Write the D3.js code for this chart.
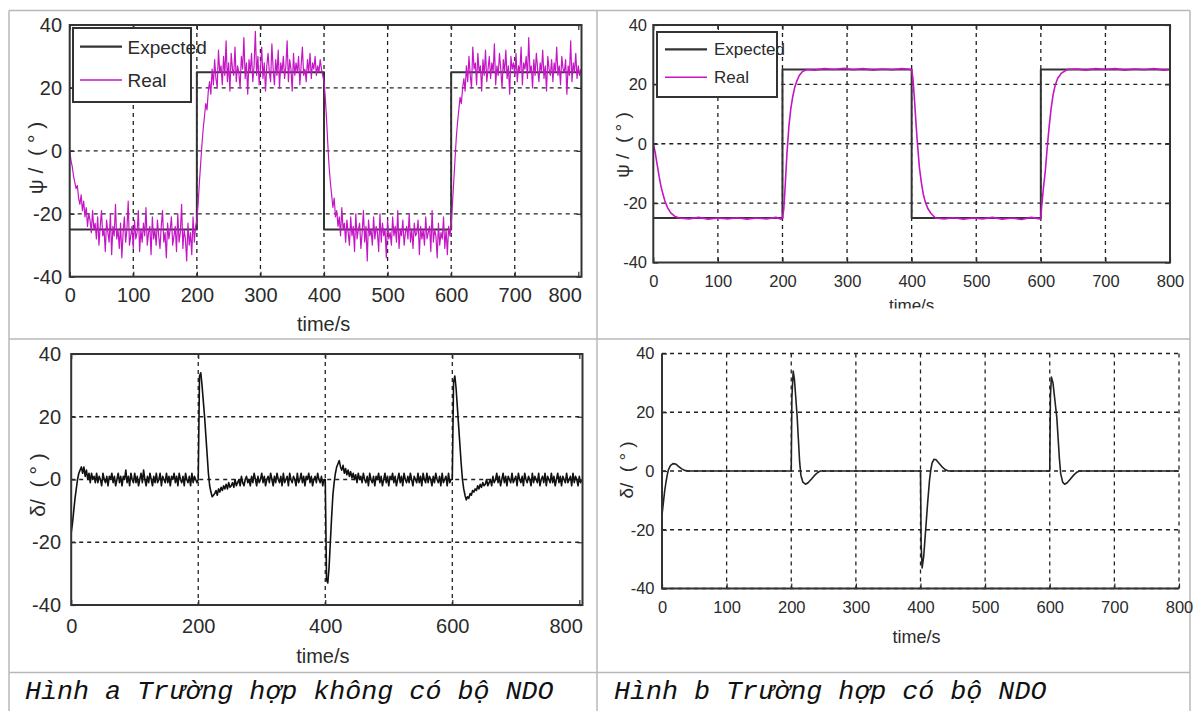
<!DOCTYPE html>
<html>
<head>
<meta charset="utf-8">
<script src="https://cdn.jsdelivr.net/npm/d3@7"></script>
<style>
  body { margin: 0; background: #fff; }
  svg { display: block; }
</style>
</head>
<body>
<svg id="fig" width="1197" height="711"></svg>
<script>
// ---------------- data ----------------
const yTicks = [-40, -20, 0, 20, 40];
const xTicksFine = [0, 100, 200, 300, 400, 500, 600, 700, 800];
const xTicksCoarse = [0, 200, 400, 600, 800];
const legendLabels = ["Expected", "Real"];
const captionA = "Hình a Trường hợp không có bộ NDO";
const captionB = "Hình b Trường hợp có bộ NDO";
const xTitle = "time/s";
const yTitlePsi = "ψ /  ( ° )";
const yTitleDelta = "δ/  ( ° )";

// heading reference (square wave), same for both cases
const psiExpectedATime = [0, 200, 200, 400, 400, 600, 600, 805, 805];
const psiExpectedAVal  = [-25, -25, 25, 25, -25, -25, 25, 25, -21];
const psiExpectedBTime = [0, 200, 200, 400, 400, 600, 600, 800];
const psiExpectedBVal  = [-25, -25, 25, 25, -25, -25, 25, 25];

// case a (no NDO): sampled every 2 s from t = 0 to 804
const sampleStepA = 2;
const psiRealA = [
  // 0 - 198 s
  0, -3, -5, -8, -10, -12, -11, -15, -17, -14,
  -19, -16, -21, -18, -24, -20, -22, -26, -19, -25,
  -23, -28, -21, -30, -24, -19, -27, -25, -32, -22,
  -26, -29, -20, -33, -24, -27, -17, -28, -25, -31,
  -23, -34, -26, -21, -29, -25, -16, -30, -27, -24,
  -31, -22, -28, -26, -19, -32, -25, -29, -23, -27,
  -18, -30, -26, -24, -33, -21, -28, -25, -30, -22,
  -27, -31, -24, -19, -29, -26, -34, -23, -28, -25,
  -21, -30, -27, -24, -32, -20, -29, -26, -17, -31,
  -25, -28, -35, -23, -30, -26, -33, -21, -29, -24,
  // 200 - 398 s
  -22, -17, -10, -4, 2, 7, 11, 15, 13, 19,
  22, 18, 26, 21, 29, 23, 20, 32, 25, 27,
  21, 30, 24, 35, 22, 28, 19, 31, 26, 24,
  33, 22, 27, 25, 20, 30, 26, 36, 23, 28,
  18, 29, 25, 31, 22, 27, 38, 24, 30, 21,
  26, 33, 23, 28, 19, 27, 31, 25, 22, 34,
  26, 21, 29, 24, 32, 20, 28, 25, 30, 23,
  27, 35, 22, 29, 26, 19, 31, 24, 28, 25,
  30, 21, 27, 33, 24, 26, 22, 29, 25, 31,
  23, 28, 26, 30, 24, 27, 25, 29, 26, 24,
  // 400 - 598 s
  22, 17, 10, 2, -5, -10, -14, -18, -15, -21,
  -19, -24, -21, -27, -18, -25, -23, -29, -22, -26,
  -30, -21, -27, -24, -32, -20, -28, -25, -23, -31,
  -26, -19, -29, -24, -35, -22, -27, -25, -30, -21,
  -28, -24, -26, -32, -20, -29, -23, -27, -25, -34,
  -22, -28, -26, -30, -21, -27, -24, -29, -19, -31,
  -25, -27, -22, -30, -26, -24, -28, -20, -29, -25,
  -31, -23, -27, -26, -22, -33, -24, -28, -25, -30,
  -21, -28, -26, -24, -32, -19, -29, -25, -27, -34,
  -23, -30, -26, -28, -21, -31, -25, -33, -24, -27,
  // 600 - 804 s
  -24, -17, -10, -3, 4, 9, 13, 17, 15, 20,
  23, 19, 27, 22, 30, 24, 20, 33, 26, 28,
  21, 31, 25, 27, 19, 29, 24, 32, 22, 26,
  30, 23, 28, 25, 34, 21, 27, 24, 31, 26,
  20, 29, 25, 32, 23, 27, 18, 30, 26, 28,
  24, 31, 22, 27, 25, 33, 21, 28, 26, 30,
  23, 36, 25, 27, 20, 29, 24, 31, 26, 22,
  28, 25, 32, 23, 27, 19, 30, 26, 24, 29,
  22, 28, 25, 33, 24, 27, 21, 30, 26, 25,
  29, 18, 27, 24, 35, 22, 28, 25, 31, 23,
  27, 24, 26
];
const deltaA = [
  // 0 - 198 s
  -17, -14, -10, -6, -3, 0, 2, 3, 4, 2,
  4, 1, 3, 0, 2, -1, 2, 0, 1, -1,
  2, -1, 1, 0, -2, 2, 0, -1, 1, -2,
  1, 0, 2, -1, 1, -2, 0, 2, -1, 1,
  -2, 1, 0, 3, -1, 1, -2, 2, 0, -1,
  2, -1, 1, -2, 0, 2, -1, 3, 0, -2,
  1, -1, 2, 0, -2, 1, -1, 2, -1, 0,
  2, -2, 1, 0, -1, 2, -1, 1, -2, 1,
  0, 2, -1, 1, -2, 2, 0, -1, 1, -2,
  2, 0, -1, 1, -2, 2, -1, 1, 0, -1,
  // 200 - 398 s
  0, 33, 34, 30, 25, 20, 14, 8, 2, -2,
  -4, -5.5, -5, -4.5, -3.5, -5, -3, -4, -2.5, -3.5,
  -2, -3, -1.5, -3, -1, -2.5, -2, -1, -2.5, 0,
  -2, -1, 0, -2, 1, -1, -2, 0, 1, -1,
  0, -2, 1, -1, 2, 0, -2, 1, -1, 0,
  2, -1, 1, -2, 0, 1, -1, 2, 0, -2,
  1, -1, 2, 0, -1, 1, -2, 2, -1, 0,
  1, -2, 2, 0, -1, 1, 0, -2, 2, -1,
  0, 2, -1, 1, -2, 1, 0, 2, -1, 1,
  -2, 0, 1, -1, 2, 0, -1, 1, -2, 0,
  // 400 - 598 s
  0, -32, -33, -28, -20, -12, -5, -1, 2, 4,
  5, 6, 4, 3, 4.5, 2, 3.5, 1.5, 3, 1,
  2.5, 0.5, 2, 0, 1.5, -1, 2, 0, 1, -1,
  2, 0, -1, 1, -2, 2, 0, -1, 1, -2,
  1, 0, 2, -1, 1, -2, 0, 2, -1, 1,
  -2, 1, 0, 2, -1, 1, -2, 0, 2, -1,
  1, -2, 2, 0, -1, 1, -1, 2, 0, -2,
  1, 0, -1, 2, -1, 1, -2, 2, 0, -1,
  2, -1, 1, 0, -2, 1, -1, 2, 0, -1,
  1, -2, 2, -1, 0, 1, -2, 2, -1, 0,
  // 600 - 804 s
  0, 31, 33, 29, 23, 17, 11, 5, 0, -3,
  -5, -6.5, -5.5, -6, -4.5, -5, -3.5, -4, -3, -3.5,
  -2, -3, -1.5, -2.5, -1, -2, -1.5, 0, -2, -1,
  0, -2, 1, -1, 0, 2, -1, 1, -2, 0,
  2, -1, 1, -2, 1, 0, -1, 2, -1, 0,
  1, -2, 2, 0, -1, 1, -2, 2, 0, -1,
  1, 0, -2, 2, -1, 1, 0, -1, 2, -2,
  0, 1, -1, 2, -2, 1, 0, -1, 2, -1,
  1, -2, 0, 2, -1, 1, -2, 1, 0, -1,
  2, -1, 0, 1, -2, 2, -1, 1, 0, -2,
  1, -1, 0
];

// case b (with NDO)
const psiRealBTime = [
  0, 3, 6, 9, 12, 15, 18, 22, 27, 33, 40, 55, 70, 85, 100, 115, 130, 145, 160, 175, 190, 198,
  200, 202, 204, 207, 210, 213, 216, 219, 222, 226, 231, 238, 250, 265, 280, 295, 310, 325, 340, 355, 370, 385, 398,
  400, 402, 404, 407, 409, 412, 415, 418, 421, 425, 430, 437, 450, 465, 480, 495, 510, 525, 540, 555, 570, 585, 598,
  600, 601, 604, 607, 610, 613, 616, 619, 622, 626, 632, 641, 655, 670, 685, 700, 715, 730, 745, 760, 775, 790, 800
];
const psiRealBVal = [
  0, -3, -7, -11, -14.5, -17, -19.3, -21.5, -23.3, -24.4, -25, -25.3, -24.8, -25.4, -25, -25.3, -24.9, -25.4, -25, -25.3, -24.8, -25.4,
  -25, -22, -15, -3, 6, 12, 16, 19, 21, 23, 24.3, 25, 24.8, 25.3, 25, 25.4, 24.9, 25.3, 24.8, 25.2, 24.9, 25.3, 25,
  25, 22, 16, 6, 0, -8, -13, -17, -19.5, -21.8, -23.5, -25, -25.3, -24.9, -25.4, -25, -25.3, -24.8, -25.4, -25, -25.5, -24.8, -25.3,
  -25, -22, -15, -9, -1, 6, 12, 16.5, 19.5, 22, 23.8, 25, 25.2, 24.8, 25.3, 25, 25.3, 24.8, 25.2, 24.9, 25.3, 24.8, 25
];
const deltaBTime = [
  0, 2, 4, 6, 8, 10, 13, 17, 21, 25, 30, 35, 40,
  200, 201, 203, 205, 207, 209, 211, 213, 215, 218, 222, 226, 231, 236, 241, 245,
  400, 401, 402.5, 405, 408, 411, 414, 416, 418, 421, 424, 428, 433, 438, 443,
  600, 601, 602.5, 605, 608, 611, 613, 615, 617, 620, 623, 627, 632, 637, 642, 646, 800
];
const deltaBVal = [
  -15, -11, -7, -4, -1.5, 0.5, 1.8, 2.5, 2.4, 1.7, 0.8, 0.2, 0,
  0, 25, 34, 31, 25, 19, 11, 3, -1.5, -3.8, -4.5, -4, -2.8, -1.5, -0.5, 0,
  0, -25, -33, -29, -20, -11, -3, 0.5, 2.8, 4, 3.8, 2.8, 1.5, 0.5, 0,
  0, 25, 32, 30, 24, 18, 11, 4, -1, -3.8, -4.5, -4, -2.7, -1.4, -0.4, 0, 0
];

// ---------------- drawing ----------------
const svg = d3.select("#fig");
const defs = svg.append("defs");
const SANS = "'Liberation Sans', Arial, sans-serif";
const MAGENTA = "#c416c4";
const INK = "#2b2b2b";
const plainNumber = d => String(d);

const zip = (ts, vs) => ts.map((t, i) => ({ t, v: vs[i] }));
const stepped = (vs, step) => vs.map((v, i) => ({ t: i * step, v }));

// table grid
const table = svg.append("g").attr("stroke", "#b8b8b8").attr("stroke-width", 1.5);
[[9, 10.5, 1190, 10.5], [9, 10.5, 9, 711], [1190, 10.5, 1190, 711], [597, 10.5, 597, 711],
 [9, 339, 1190, 339], [9, 672.5, 1190, 672.5]].forEach(([x1, y1, x2, y2]) =>
  table.append("line").attr("x1", x1).attr("y1", y1).attr("x2", x2).attr("y2", y2));

function drawPanel(o) {
  const x = d3.scaleLinear().domain([0, o.xMax]).range([o.left, o.right]);
  const y = d3.scaleLinear().domain([yTicks[0], yTicks[yTicks.length - 1]]).range([o.bottom, o.top]);
  const g = svg.append("g");

  defs.append("clipPath").attr("id", "clip-" + o.id)
    .append("rect").attr("x", o.left).attr("y", o.top)
    .attr("width", o.right - o.left).attr("height", o.bottom - o.top);

  // dashed grid
  const keep = (s, v) => o.edgeGrid || (Math.abs(s(v) - s.range()[0]) > 6 && Math.abs(s(v) - s.range()[1]) > 6);
  const grid = g.append("g").attr("stroke", "#222").attr("stroke-width", 1.3)
    .attr("stroke-dasharray", o.dash);
  grid.selectAll(".gx").data(o.xGrid.filter(v => keep(x, v))).join("line")
    .attr("x1", d => x(d)).attr("x2", d => x(d)).attr("y1", o.top).attr("y2", o.bottom);
  grid.selectAll(".gy").data(o.yGrid.filter(v => keep(y, v))).join("line")
    .attr("y1", d => y(d)).attr("y2", d => y(d)).attr("x1", o.left).attr("x2", o.right);

  // series
  const lineGen = d3.line().x(d => x(d.t)).y(d => y(d.v));
  const plot = g.append("g").attr("clip-path", `url(#clip-${o.id})`);
  o.series.forEach(s => {
    plot.append("path").datum(s.data).attr("d", lineGen)
      .attr("fill", "none").attr("stroke", s.color).attr("stroke-width", s.width)
      .attr("stroke-linejoin", "round");
  });

  // axes
  const fs = o.fontSize;
  const bottomAxis = g.append("g").attr("transform", `translate(0,${o.bottom})`)
    .call(d3.axisBottom(x).tickValues(o.xTicks).tickSize(-5)
      .tickPadding(o.xLabelBase - o.bottom - 0.71 * fs).tickFormat(plainNumber));
  const leftAxis = g.append("g").attr("transform", `translate(${o.left},0)`)
    .call(d3.axisLeft(y).tickValues(yTicks).tickSize(-5)
      .tickPadding(o.left - o.yLabelRight).tickFormat(plainNumber));
  [bottomAxis, leftAxis].forEach(a => {
    a.select(".domain").remove();
    a.attr("color", INK).attr("font-family", SANS).attr("font-size", fs);
    a.selectAll(".tick line").attr("stroke-width", 1.2);
  });
  if (o.endAlignLast) {
    bottomAxis.selectAll(".tick text").filter(d => d === o.xTicks[o.xTicks.length - 1])
      .attr("text-anchor", "end").attr("x", 3);
  }
  if (o.box) {
    const topAxis = g.append("g").attr("transform", `translate(0,${o.top})`)
      .call(d3.axisTop(x).tickValues(o.xTicks).tickSize(-5).tickFormat(""));
    const rightAxis = g.append("g").attr("transform", `translate(${o.right},0)`)
      .call(d3.axisRight(y).tickValues(yTicks).tickSize(-5).tickFormat(""));
    [topAxis, rightAxis].forEach(a => {
      a.select(".domain").remove();
      a.attr("color", INK);
      a.selectAll(".tick line").attr("stroke-width", 1.2);
    });
    g.append("rect").attr("x", o.left).attr("y", o.top)
      .attr("width", o.right - o.left).attr("height", o.bottom - o.top)
      .attr("fill", "none").attr("stroke", "#333").attr("stroke-width", 2);
  } else {
    g.append("path")
      .attr("d", `M${o.left},${o.top}V${o.bottom}H${o.right}`)
      .attr("fill", "none").attr("stroke", "#333").attr("stroke-width", 2);
  }

  // axis titles
  const xt = g.append("text").attr("x", (o.left + o.right) / 2 + o.xTitleDx).attr("y", o.xTitleBase)
    .attr("text-anchor", "middle").attr("font-family", SANS).attr("font-size", o.titleSize)
    .attr("fill", INK).text(xTitle);
  if (o.xTitleClip) {
    defs.append("clipPath").attr("id", "clipx-" + o.id).append("rect")
      .attr("x", 0).attr("y", 0).attr("width", 1197).attr("height", o.xTitleClip);
    xt.attr("clip-path", `url(#clipx-${o.id})`);
  }
  g.append("text")
    .attr("transform", `translate(${o.yTitleX},${o.yTitleY}) rotate(-90)`)
    .attr("text-anchor", "middle").attr("dominant-baseline", "central")
    .attr("font-family", SANS).attr("font-size", o.yTitleSize).attr("fill", INK)
    .attr("xml:space", "preserve").style("white-space", "pre")
    .text(o.yTitle);

  // legend
  if (o.legend) {
    const L = o.legend;
    const lg = g.append("g");
    lg.append("rect").attr("x", L.x0).attr("y", L.y0)
      .attr("width", L.x1 - L.x0).attr("height", L.y1 - L.y0)
      .attr("fill", "#fff").attr("stroke", "#333").attr("stroke-width", 2);
    legendLabels.forEach((lab, i) => {
      const ly = L.rows[i];
      const s = o.series.find(d => d.name === lab);
      lg.append("line").attr("x1", L.lx0).attr("x2", L.lx1).attr("y1", ly).attr("y2", ly)
        .attr("stroke", s.color).attr("stroke-width", s.width === 2 ? 2.2 : 1.6);
      lg.append("text").attr("x", L.tx).attr("y", ly).attr("dy", "0.36em")
        .attr("font-family", SANS).attr("font-size", L.fs).attr("fill", INK).text(lab);
    });
  }
}

// Hình a, heading
drawPanel({
  id: "psiA", left: 69.7, right: 581.5, top: 25, bottom: 276.7, xMax: 805,
  xTicks: xTicksFine, xGrid: xTicksFine, yGrid: yTicks, box: true, dash: "4,4",
  fontSize: 20, xLabelBase: 302, yLabelRight: 62, endAlignLast: true,
  titleSize: 20, xTitleBase: 331, xTitleDx: -2,
  yTitle: yTitlePsi, yTitleSize: 21, yTitleX: 35, yTitleY: 158,
  series: [
    { name: "Expected", data: zip(psiExpectedATime, psiExpectedAVal), color: "#333", width: 2 },
    { name: "Real", data: stepped(psiRealA, sampleStepA), color: MAGENTA, width: 1.2 }
  ],
  legend: { x0: 73, y0: 28, x1: 191, y1: 102, rows: [46.7, 80], lx0: 80, lx1: 122, tx: 127.5, fs: 19 }
});

// Hình b, heading
drawPanel({
  id: "psiB", left: 653.3, right: 1170, top: 25, bottom: 262.5, xMax: 800,
  xTicks: xTicksFine, xGrid: xTicksFine, yGrid: yTicks, box: true, dash: "4,4",
  fontSize: 16.5, xLabelBase: 287, yLabelRight: 647,
  titleSize: 17, xTitleBase: 311, xTitleDx: 0, xTitleClip: 308.5,
  yTitle: yTitlePsi, yTitleSize: 19, yTitleX: 622, yTitleY: 145,
  series: [
    { name: "Expected", data: zip(psiExpectedBTime, psiExpectedBVal), color: "#333", width: 2 },
    { name: "Real", data: zip(psiRealBTime, psiRealBVal), color: MAGENTA, width: 1.6 }
  ],
  legend: { x0: 657, y0: 32, x1: 777, y1: 97, rows: [49.3, 77.3], lx0: 665, lx1: 707, tx: 714, fs: 17 }
});

// Hình a, rudder angle
drawPanel({
  id: "deltaA", left: 71.2, right: 582.5, top: 354, bottom: 605, xMax: 805,
  xTicks: xTicksCoarse, xGrid: xTicksCoarse, yGrid: yTicks, box: true, dash: "4,4",
  fontSize: 20, xLabelBase: 633, yLabelRight: 61, endAlignLast: true,
  titleSize: 20, xTitleBase: 663, xTitleDx: -4,
  yTitle: yTitleDelta, yTitleSize: 21, yTitleX: 37, yTitleY: 485,
  series: [
    { name: "delta", data: stepped(deltaA, sampleStepA), color: "#111", width: 1.6 }
  ]
});

// Hình b, rudder angle
drawPanel({
  id: "deltaB", left: 662, right: 1179, top: 353.5, bottom: 588.5, xMax: 800,
  xTicks: xTicksFine, xGrid: xTicksFine, yGrid: yTicks, box: false, edgeGrid: true, dash: "4,4",
  fontSize: 16.5, xLabelBase: 613, yLabelRight: 654.5,
  titleSize: 18, xTitleBase: 643, xTitleDx: -4,
  yTitle: yTitleDelta, yTitleSize: 19, yTitleX: 626, yTitleY: 470,
  series: [
    { name: "delta", data: zip(deltaBTime, deltaBVal), color: "#222", width: 1.6 }
  ]
});

// captions
const capStyle = t => t.attr("font-family", "'Liberation Mono', 'Courier New', monospace")
  .attr("font-style", "italic").attr("font-size", 26.7).attr("fill", "#111");
capStyle(svg.append("text").attr("x", 25).attr("y", 699).text(captionA));
capStyle(svg.append("text").attr("x", 614).attr("y", 699).text(captionB));
</script>
</body>
</html>
